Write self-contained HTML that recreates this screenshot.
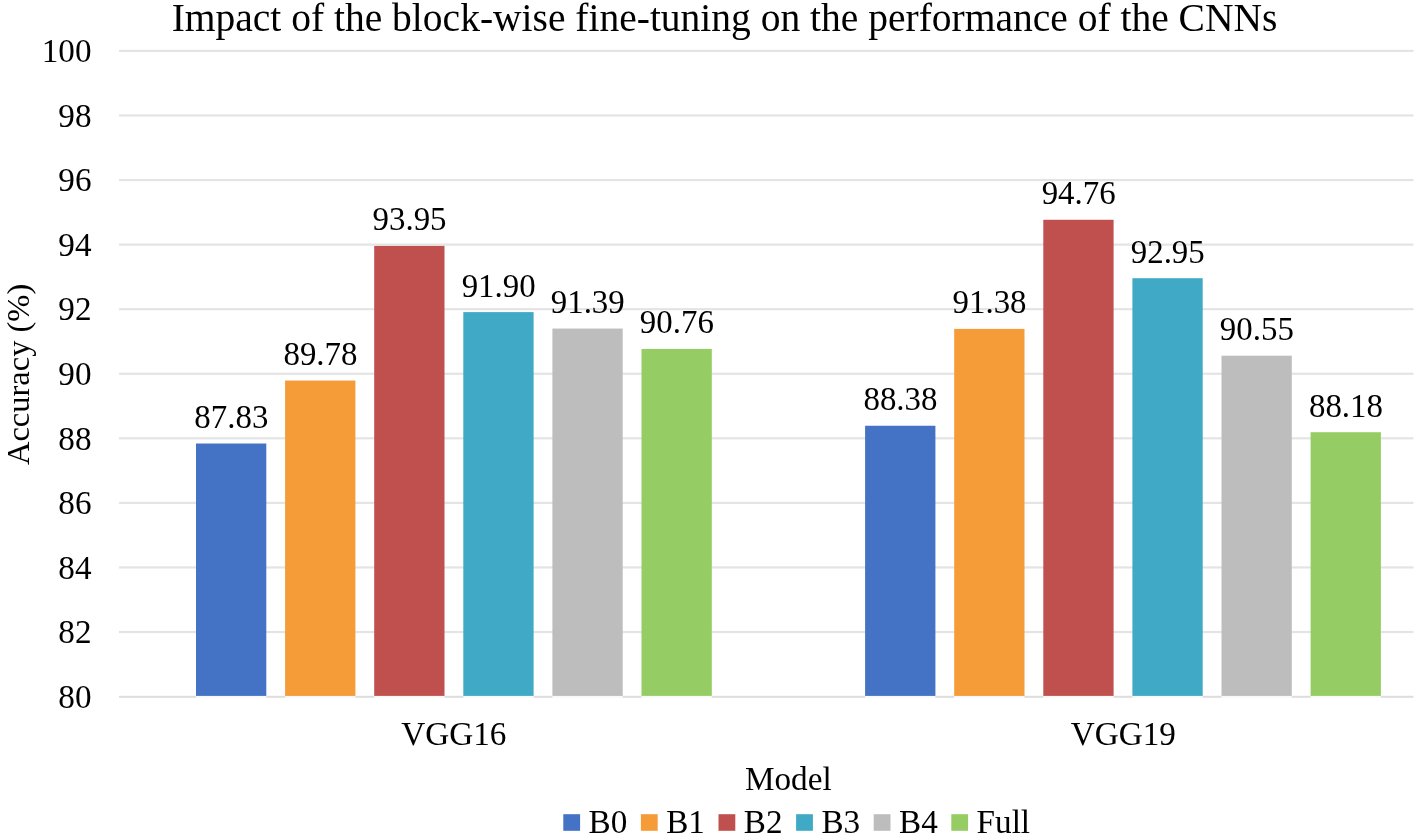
<!DOCTYPE html>
<html lang="en"><head><meta charset="utf-8"><title>Impact of the block-wise fine-tuning on the performance of the CNNs</title>
<style>
html,body{margin:0;padding:0;background:#fff;}
body{width:1416px;height:839px;overflow:hidden;}
svg{display:block;font-family:"Liberation Serif","Times New Roman",serif;fill:#000;}
.t{font-size:33.2px;}
.title{font-size:39.5px;}
.yt{font-size:32.5px;}
.dl{font-size:32.9px;}
</style></head><body>
<svg width="1416" height="839" viewBox="0 0 1416 839">
<rect x="0" y="0" width="1416" height="839" fill="#ffffff"/>
<g>
<rect x="119" y="49.80" width="1294.5" height="2.2" fill="#e4e4e4"/>
<rect x="119" y="114.37" width="1294.5" height="2.2" fill="#e4e4e4"/>
<rect x="119" y="178.94" width="1294.5" height="2.2" fill="#e4e4e4"/>
<rect x="119" y="243.51" width="1294.5" height="2.2" fill="#e4e4e4"/>
<rect x="119" y="308.08" width="1294.5" height="2.2" fill="#e4e4e4"/>
<rect x="119" y="372.65" width="1294.5" height="2.2" fill="#e4e4e4"/>
<rect x="119" y="437.22" width="1294.5" height="2.2" fill="#e4e4e4"/>
<rect x="119" y="501.79" width="1294.5" height="2.2" fill="#e4e4e4"/>
<rect x="119" y="566.36" width="1294.5" height="2.2" fill="#e4e4e4"/>
<rect x="119" y="630.93" width="1294.5" height="2.2" fill="#e4e4e4"/>
<rect x="119" y="695.80" width="1294.5" height="2.0" fill="#dddddd"/>
</g>
<g>
<text class="t" x="91.5" y="62.20" text-anchor="end">100</text>
<text class="t" x="91.5" y="126.77" text-anchor="end">98</text>
<text class="t" x="91.5" y="191.34" text-anchor="end">96</text>
<text class="t" x="91.5" y="255.91" text-anchor="end">94</text>
<text class="t" x="91.5" y="320.48" text-anchor="end">92</text>
<text class="t" x="91.5" y="385.05" text-anchor="end">90</text>
<text class="t" x="91.5" y="449.62" text-anchor="end">88</text>
<text class="t" x="91.5" y="514.19" text-anchor="end">86</text>
<text class="t" x="91.5" y="578.76" text-anchor="end">84</text>
<text class="t" x="91.5" y="643.33" text-anchor="end">82</text>
<text class="t" x="91.5" y="707.90" text-anchor="end">80</text>
</g>
<g>
<rect x="196.00" y="695.90" width="70.30" height="3.4" fill="#ffffff" fill-opacity="0.82"/>
<rect x="196.00" y="443.51" width="70.30" height="252.39" fill="#4472C4"/>
<text class="dl" x="231.35" y="428.01" text-anchor="middle">87.83</text>
<rect x="285.10" y="695.90" width="70.30" height="3.4" fill="#ffffff" fill-opacity="0.82"/>
<rect x="285.10" y="380.55" width="70.30" height="315.35" fill="#F59B38"/>
<text class="dl" x="320.45" y="365.05" text-anchor="middle">89.78</text>
<rect x="374.20" y="695.90" width="70.30" height="3.4" fill="#ffffff" fill-opacity="0.82"/>
<rect x="374.20" y="245.92" width="70.30" height="449.98" fill="#C0504D"/>
<text class="dl" x="409.55" y="230.42" text-anchor="middle">93.95</text>
<rect x="463.30" y="695.90" width="70.30" height="3.4" fill="#ffffff" fill-opacity="0.82"/>
<rect x="463.30" y="312.11" width="70.30" height="383.79" fill="#40AAC6"/>
<text class="dl" x="498.65" y="296.61" text-anchor="middle">91.90</text>
<rect x="552.40" y="695.90" width="70.30" height="3.4" fill="#ffffff" fill-opacity="0.82"/>
<rect x="552.40" y="328.57" width="70.30" height="367.33" fill="#BDBDBD"/>
<text class="dl" x="587.75" y="313.07" text-anchor="middle">91.39</text>
<rect x="641.50" y="695.90" width="70.30" height="3.4" fill="#ffffff" fill-opacity="0.82"/>
<rect x="641.50" y="348.91" width="70.30" height="346.99" fill="#96CC64"/>
<text class="dl" x="676.85" y="333.41" text-anchor="middle">90.76</text>
<rect x="865.10" y="695.90" width="70.30" height="3.4" fill="#ffffff" fill-opacity="0.82"/>
<rect x="865.10" y="425.75" width="70.30" height="270.15" fill="#4472C4"/>
<text class="dl" x="900.45" y="410.25" text-anchor="middle">88.38</text>
<rect x="954.20" y="695.90" width="70.30" height="3.4" fill="#ffffff" fill-opacity="0.82"/>
<rect x="954.20" y="328.90" width="70.30" height="367.00" fill="#F59B38"/>
<text class="dl" x="989.55" y="313.40" text-anchor="middle">91.38</text>
<rect x="1043.30" y="695.90" width="70.30" height="3.4" fill="#ffffff" fill-opacity="0.82"/>
<rect x="1043.30" y="219.77" width="70.30" height="476.13" fill="#C0504D"/>
<text class="dl" x="1078.65" y="204.27" text-anchor="middle">94.76</text>
<rect x="1132.40" y="695.90" width="70.30" height="3.4" fill="#ffffff" fill-opacity="0.82"/>
<rect x="1132.40" y="278.21" width="70.30" height="417.69" fill="#40AAC6"/>
<text class="dl" x="1167.75" y="262.71" text-anchor="middle">92.95</text>
<rect x="1221.50" y="695.90" width="70.30" height="3.4" fill="#ffffff" fill-opacity="0.82"/>
<rect x="1221.50" y="355.69" width="70.30" height="340.21" fill="#BDBDBD"/>
<text class="dl" x="1256.85" y="340.19" text-anchor="middle">90.55</text>
<rect x="1310.60" y="695.90" width="70.30" height="3.4" fill="#ffffff" fill-opacity="0.82"/>
<rect x="1310.60" y="432.21" width="70.30" height="263.69" fill="#96CC64"/>
<text class="dl" x="1345.95" y="416.71" text-anchor="middle">88.18</text>
</g>
<text class="title" x="724.5" y="30.5" text-anchor="middle">Impact of the block-wise fine-tuning on the performance of the CNNs</text>
<text class="yt" transform="translate(29.4,374.4) rotate(-90)" text-anchor="middle">Accuracy (%)</text>
<text class="t" x="453.9" y="745.1" text-anchor="middle">VGG16</text>
<text class="t" x="1123.4" y="745.1" text-anchor="middle">VGG19</text>
<text class="t" x="788.3" y="790.2" text-anchor="middle">Model</text>
<g>
<rect x="563.30" y="814.2" width="16.8" height="16.6" fill="#4472C4"/>
<text class="t" x="588.60" y="832.8">B0</text>
<rect x="640.90" y="814.2" width="16.8" height="16.6" fill="#F59B38"/>
<text class="t" x="666.20" y="832.8">B1</text>
<rect x="718.50" y="814.2" width="16.8" height="16.6" fill="#C0504D"/>
<text class="t" x="743.80" y="832.8">B2</text>
<rect x="796.10" y="814.2" width="16.8" height="16.6" fill="#40AAC6"/>
<text class="t" x="821.40" y="832.8">B3</text>
<rect x="873.70" y="814.2" width="16.8" height="16.6" fill="#BDBDBD"/>
<text class="t" x="899.00" y="832.8">B4</text>
<rect x="951.30" y="814.2" width="16.8" height="16.6" fill="#96CC64"/>
<text class="t" x="976.60" y="832.8">Full</text>
</g>
</svg>
</body></html>
